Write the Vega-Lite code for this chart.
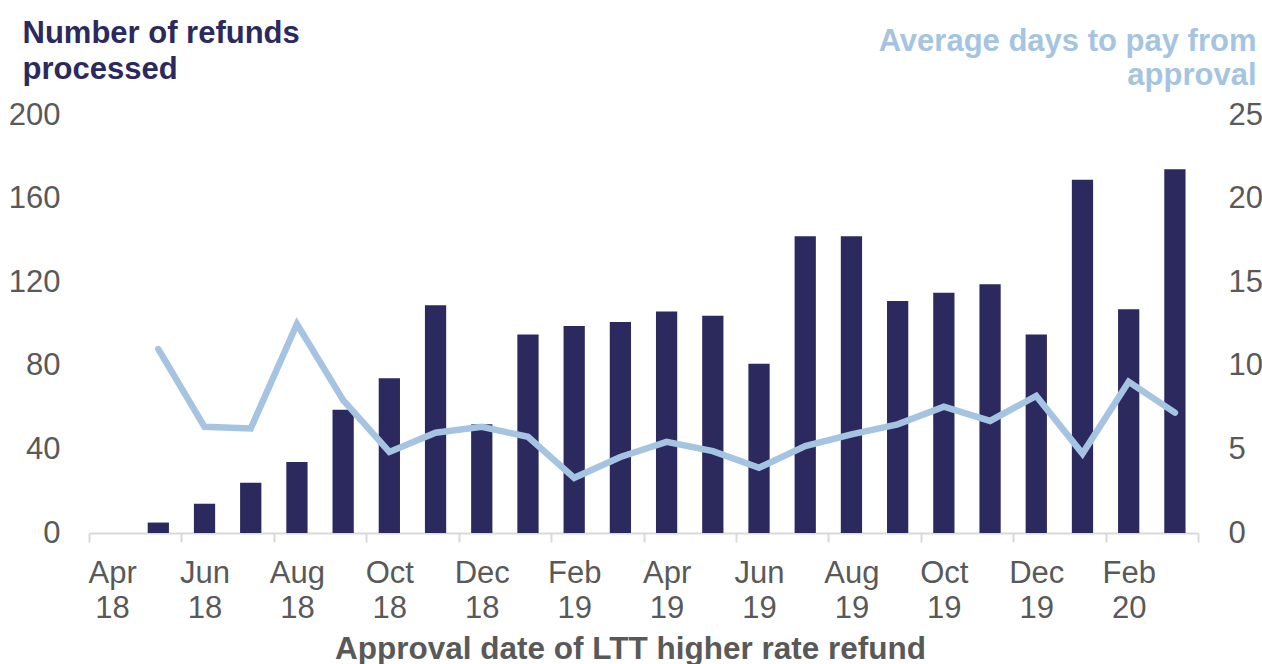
{
  "$schema": "https://vega.github.io/schema/vega-lite/v6.json",
  "width": 1109,
  "height": 418,
  "autosize": {"type": "none"},
  "padding": {"left": 89, "top": 115, "right": 64, "bottom": 131},
  "config": {"view": {"stroke": null}, "font": "Liberation Sans"},
  "data": {
    "values": [
      {"month": "Apr 18", "refunds": null, "days": null},
      {"month": "May 18", "refunds": 5, "days": 11.0},
      {"month": "Jun 18", "refunds": 14, "days": 6.35},
      {"month": "Jul 18", "refunds": 24, "days": 6.25},
      {"month": "Aug 18", "refunds": 34, "days": 12.5},
      {"month": "Sep 18", "refunds": 59, "days": 7.95},
      {"month": "Oct 18", "refunds": 74, "days": 4.85},
      {"month": "Nov 18", "refunds": 109, "days": 6.0},
      {"month": "Dec 18", "refunds": 52, "days": 6.35},
      {"month": "Jan 19", "refunds": 95, "days": 5.75},
      {"month": "Feb 19", "refunds": 99, "days": 3.3},
      {"month": "Mar 19", "refunds": 101, "days": 4.55},
      {"month": "Apr 19", "refunds": 106, "days": 5.45},
      {"month": "May 19", "refunds": 104, "days": 4.9},
      {"month": "Jun 19", "refunds": 81, "days": 3.9},
      {"month": "Jul 19", "refunds": 142, "days": 5.2},
      {"month": "Aug 19", "refunds": 142, "days": 5.9},
      {"month": "Sep 19", "refunds": 111, "days": 6.5},
      {"month": "Oct 19", "refunds": 115, "days": 7.55},
      {"month": "Nov 19", "refunds": 119, "days": 6.7},
      {"month": "Dec 19", "refunds": 95, "days": 8.2},
      {"month": "Jan 20", "refunds": 169, "days": 4.75},
      {"month": "Feb 20", "refunds": 107, "days": 9.05},
      {"month": "Mar 20", "refunds": 174, "days": 7.2}
    ]
  },
  "encoding": {
    "x": {
      "field": "month",
      "type": "ordinal",
      "sort": null,
      "scale": {
        "domain": ["Apr 18","May 18","Jun 18","Jul 18","Aug 18","Sep 18","Oct 18","Nov 18","Dec 18","Jan 19","Feb 19","Mar 19","Apr 19","May 19","Jun 19","Jul 19","Aug 19","Sep 19","Oct 19","Nov 19","Dec 19","Jan 20","Feb 20","Mar 20"],
        "paddingInner": 0,
        "paddingOuter": 0
      },
      "axis": {
        "title": "Approval date of LTT higher rate refund",
        "titleFontSize": 31.5,
        "titleFontWeight": "bold",
        "titleColor": "#595959",
        "titleX": 541,
        "titleY": 125,
        "titleAlign": "center",
        "titleBaseline": "alphabetic",
        "labelAngle": 0,
        "labelFontSize": 31,
        "labelColor": "#595959",
        "labelBaseline": "alphabetic",
        "labelLineHeight": 35,
        "labelPadding": 40,
        "labelOverlap": false,
        "labelExpr": "indexof(['Apr','Jun','Aug','Oct','Dec','Feb'], substring(datum.value,0,3)) >= 0 ? split(datum.value, ' ') : ''",
        "domainColor": "#D9D9D9",
        "domainWidth": 2,
        "tickBand": "extent",
        "tickColor": "#D9D9D9",
        "tickWidth": 2,
        "tickSize": 9,
        "tickOpacity": {
          "condition": {"test": "datum.extra || indexof(['May','Jul','Sep','Nov','Jan','Mar'], substring(datum.value,0,3)) >= 0", "value": 1},
          "value": 0
        },
        "grid": false
      }
    }
  },
  "layer": [
    {
      "mark": {"type": "bar", "color": "#2B295E", "width": {"band": 0.46}},
      "encoding": {
        "y": {
          "field": "refunds",
          "type": "quantitative",
          "scale": {"domain": [0, 200], "nice": false},
          "axis": {
            "values": [0, 40, 80, 120, 160, 200],
            "title": ["Number of refunds", "processed"],
            "titleAngle": 0,
            "titleAlign": "left",
            "titleBaseline": "alphabetic",
            "titleX": -67,
            "titleY": -73,
            "titleLineHeight": 36,
            "titleFontSize": 31,
            "titleFontWeight": "bold",
            "titleColor": "#2B295E",
            "labelFontSize": 31,
            "labelColor": "#595959",
            "labelPadding": 29,
            "domain": false,
            "ticks": false,
            "grid": false
          }
        }
      }
    },
    {
      "mark": {"type": "line", "color": "#A5C4E1", "strokeWidth": 6.5, "strokeCap": "round"},
      "encoding": {
        "y": {
          "field": "days",
          "type": "quantitative",
          "scale": {"domain": [0, 25], "nice": false},
          "axis": {
            "orient": "right",
            "values": [0, 5, 10, 15, 20, 25],
            "title": ["Average days to pay from", "approval"],
            "titleAngle": 0,
            "titleAlign": "right",
            "titleBaseline": "alphabetic",
            "titleX": 58,
            "titleY": -65,
            "titleLineHeight": 34,
            "titleFontSize": 31,
            "titleFontWeight": "bold",
            "titleColor": "#A5C4E1",
            "labelFontSize": 31,
            "labelColor": "#595959",
            "labelPadding": 30,
            "domain": false,
            "ticks": false,
            "grid": false
          }
        }
      }
    }
  ],
  "resolve": {"scale": {"y": "independent"}}
}
